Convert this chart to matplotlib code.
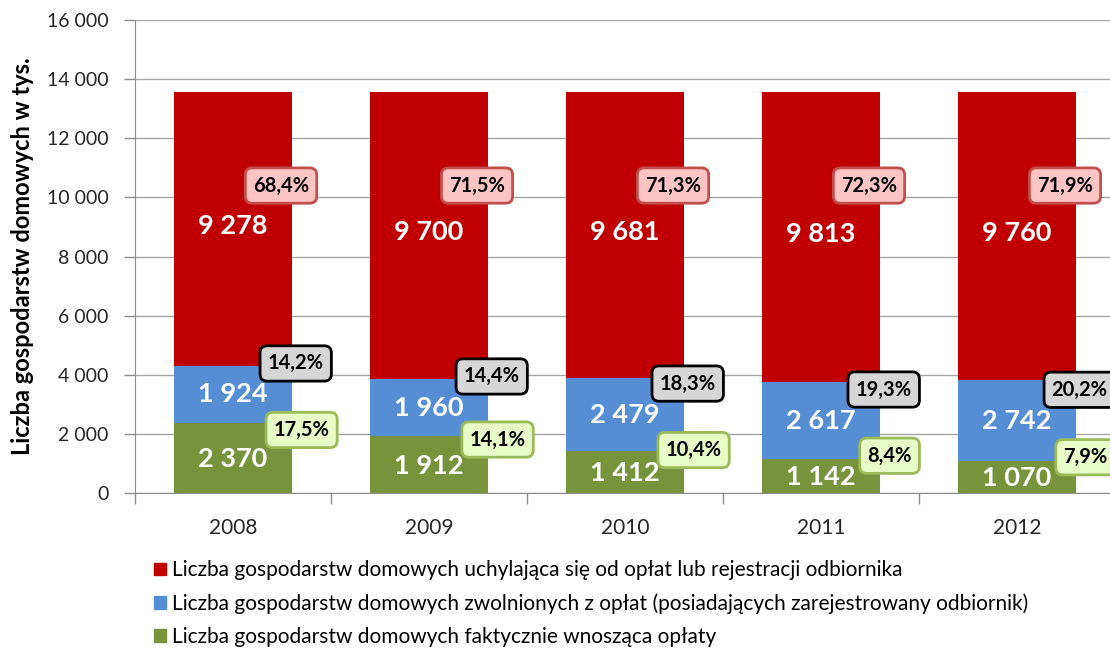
import numpy as np
import matplotlib.pyplot as plt
from matplotlib.patches import Patch

plt.rcParams['font.family'] = ['Lato', 'DejaVu Sans']

# dane (w tys.)
years = ['2008', '2009', '2010', '2011', '2012']
placacy = [2370, 1912, 1412, 1142, 1070]          # faktycznie wnoszące opłaty
zwolnieni = [1924, 1960, 2479, 2617, 2742]        # zwolnieni z opłat
uchylajacy = [9278, 9700, 9681, 9813, 9760]       # uchylający się

legend_labels = [
    'Liczba gospodarstw domowych uchylająca się od opłat lub rejestracji odbiornika',
    'Liczba gospodarstw domowych zwolnionych z opłat (posiadających zarejestrowany odbiornik)',
    'Liczba gospodarstw domowych faktycznie wnosząca opłaty',
]

C_RED = '#C00000'
C_BLUE = '#558ED5'
C_GREEN = '#77933C'


def fmt(v):
    return f'{v:,.0f}'.replace(',', ' ')


def pct(v):
    return f'{v:.1f}%'.replace('.', ',')


g = np.array(placacy, dtype=float)
b = np.array(zwolnieni, dtype=float)
r = np.array(uchylajacy, dtype=float)
total = g + b + r
x = np.arange(len(years))

fig = plt.figure(figsize=(11.1, 6.48), dpi=100)
ax = fig.add_axes([135 / 1110, 155 / 648, 980 / 1110, 473 / 648])

w = 0.6
ax.bar(x, g, w, color=C_GREEN, zorder=2)
ax.bar(x, b, w, bottom=g, color=C_BLUE, zorder=2)
ax.bar(x, r, w, bottom=g + b, color=C_RED, zorder=2)

# wartości w słupkach
val_kw = dict(ha='center', va='center', color='white', fontsize=19.5,
              fontweight='bold', zorder=4)
for i in x:
    ax.text(i, g[i] / 2 - 40, fmt(g[i]), **val_kw)
    ax.text(i, g[i] + b[i] / 2, fmt(b[i]), **val_kw)
    ax.text(i, g[i] + b[i] + r[i] / 2 + 100, fmt(r[i]), **val_kw)

# etykiety procentowe w ramkach
def box(xx, yy, txt, fc, ec):
    ax.text(xx, yy, txt, ha='center', va='center', fontsize=14.5,
            fontweight='bold', color='black', zorder=5,
            bbox=dict(boxstyle='round,pad=0.38,rounding_size=0.35',
                      fc=fc, ec=ec, lw=2))

for i in x:
    box(i + 0.245, 10400, pct(r[i] / total[i] * 100), '#FFC4C4', '#C0504D')
    box(i + 0.32, g[i] + b[i] / 2 + 1050, pct(b[i] / total[i] * 100),
        '#D6D6D6', '#000000')
    box(i + 0.35, g[i] * 0.71 + 450, pct(g[i] / total[i] * 100),
        '#E8FCC8', '#9BBB59')

ax.set_xlim(-0.5, len(years) - 0.5)
ax.set_ylim(0, 16000)
ax.set_yticks(np.arange(0, 16001, 2000))
ax.set_yticklabels([fmt(v) for v in np.arange(0, 16001, 2000)])
ax.yaxis.grid(True, color='#A6A6A6', lw=1, zorder=0)
ax.set_axisbelow(True)

ax.set_xticks(np.arange(-0.5, len(years)), minor=False)
ax.set_xticklabels([])
ax.set_xticks(x, minor=True)
ax.set_xticklabels(years, minor=True)
ax.tick_params(axis='x', which='major', length=8, color='#8C8C8C', width=1)
ax.tick_params(axis='x', which='minor', length=0, pad=18, labelsize=15,
               labelcolor='#262626')
ax.tick_params(axis='y', length=8, color='#8C8C8C', width=1, labelsize=14,
               labelcolor='#262626', pad=11)

for s in ['top', 'right']:
    ax.spines[s].set_visible(False)
for s in ['left', 'bottom']:
    ax.spines[s].set_color('#8C8C8C')

ax.set_ylabel('Liczba gospodarstw domowych w tys.', fontsize=17,
              fontweight='bold', labelpad=9)

handles = [Patch(color=C_RED), Patch(color=C_BLUE), Patch(color=C_GREEN)]
fig.legend(handles, legend_labels, loc='upper left',
           bbox_to_anchor=(146 / 1110, 1 - 552 / 648), frameon=False,
           handlelength=0.55, handleheight=0.55, handletextpad=0.3,
           labelspacing=0.62, borderaxespad=0,
           prop={'size': 15})

fig.savefig('out.png', dpi=100)
